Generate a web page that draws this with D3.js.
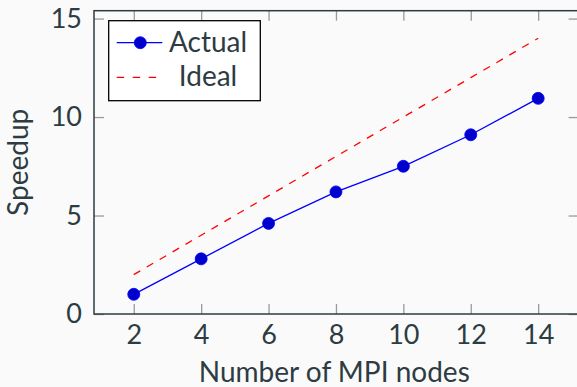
<!DOCTYPE html>
<html>
<head>
<meta charset="utf-8">
<script src="https://cdn.jsdelivr.net/npm/d3@7"></script>
<style>
  html, body { margin: 0; padding: 0; background: #fafafa; }
  svg { display: block; }
  text { font-family: Lato, "Open Sans", sans-serif; fill: #2d3c42; }
</style>
</head>
<body>
<div id="chart"></div>
<script>
const nodes = [2, 4, 6, 8, 10, 12, 14];
const actual = [1.0, 2.8, 4.6, 6.2, 7.5, 9.1, 10.95];
const ideal = [2, 4, 6, 8, 10, 12, 14];
const xTicks = [2, 4, 6, 8, 10, 12, 14];
const yTicks = [0, 5, 10, 15];

const W = 577, H = 387;
const ink = '#2d3c42';
const tickGray = '#9a9a9a';

const svg = d3.select('#chart').append('svg')
  .attr('width', W).attr('height', H);

svg.append('rect').attr('width', W).attr('height', H).attr('fill', '#fafafa');

const x = d3.scaleLinear().domain([0.82, 15.2]).range([94, 578.6]);
const y = d3.scaleLinear().domain([0, 15.4]).range([314, 10.7]);

const [x0, x1] = x.range();
const [y0, y1] = y.range();

// ticks (inward on all four sides)
const styleAxis = g => {
  g.select('.domain').remove();
  g.selectAll('.tick line').attr('stroke', tickGray).attr('stroke-width', 1.3);
  g.selectAll('.tick text').style('font-size', '27px').attr('fill', ink);
};

svg.append('g')
  .attr('transform', `translate(0,${y0})`)
  .call(d3.axisBottom(x).tickValues(xTicks).tickSize(-10).tickPadding(11))
  .call(styleAxis);

svg.append('g')
  .attr('transform', `translate(0,${y1})`)
  .call(d3.axisTop(x).tickValues(xTicks).tickSize(-10).tickFormat(''))
  .call(styleAxis);

svg.append('g')
  .attr('transform', `translate(${x0},0)`)
  .call(d3.axisLeft(y).tickValues(yTicks).tickSize(-10).tickPadding(12))
  .call(styleAxis);

svg.append('g')
  .attr('transform', `translate(${x1},0)`)
  .call(d3.axisRight(y).tickValues(yTicks).tickSize(-10).tickFormat(''))
  .call(styleAxis);

// frame
svg.append('rect')
  .attr('x', x0).attr('y', y1)
  .attr('width', x1 - x0).attr('height', y0 - y1)
  .attr('fill', 'none').attr('stroke', ink).attr('stroke-width', 1.5);

// ideal line
svg.append('path')
  .datum(nodes.map((n, i) => [n, ideal[i]]))
  .attr('fill', 'none')
  .attr('stroke', '#ff0000')
  .attr('stroke-width', 1.3)
  .attr('stroke-dasharray', '7.5,7.5')
  .attr('d', d3.line().x(d => x(d[0])).y(d => y(d[1])));

// actual line + markers
svg.append('path')
  .datum(nodes.map((n, i) => [n, actual[i]]))
  .attr('fill', 'none')
  .attr('stroke', '#0000ff')
  .attr('stroke-width', 1.3)
  .attr('d', d3.line().x(d => x(d[0])).y(d => y(d[1])));

svg.selectAll('circle.actual')
  .data(nodes.map((n, i) => [n, actual[i]]))
  .enter().append('circle')
  .attr('class', 'actual')
  .attr('cx', d => x(d[0]))
  .attr('cy', d => y(d[1]))
  .attr('r', 6)
  .attr('fill', '#0000cc')
  .attr('stroke', '#0000ff')
  .attr('stroke-width', 0.8);

// axis labels
svg.append('text')
  .attr('x', (x0 + 578.6) / 2 - 2)
  .attr('y', 382)
  .attr('text-anchor', 'middle')
  .style('font-size', '28px')
  .text('Number of MPI nodes');

svg.append('text')
  .attr('transform', `translate(28,${(y0 + y1) / 2}) rotate(-90)`)
  .attr('text-anchor', 'middle')
  .style('font-size', '28px')
  .text('Speedup');

// legend
const lg = svg.append('g');
lg.append('rect')
  .attr('x', 108.7).attr('y', 20.7)
  .attr('width', 151.6).attr('height', 80)
  .attr('fill', '#ffffff').attr('stroke', '#000').attr('stroke-width', 1.3);

lg.append('line')
  .attr('x1', 116.7).attr('x2', 162.3).attr('y1', 42.7).attr('y2', 42.7)
  .attr('stroke', '#0000ff').attr('stroke-width', 1.3);
lg.append('circle')
  .attr('cx', 140.3).attr('cy', 42.7).attr('r', 6)
  .attr('fill', '#0000cc').attr('stroke', '#0000ff').attr('stroke-width', 0.8);
lg.append('text')
  .attr('x', 208).attr('y', 51.5)
  .attr('text-anchor', 'middle')
  .style('font-size', '28px')
  .text('Actual');

lg.append('line')
  .attr('x1', 116.7).attr('x2', 162.3).attr('y1', 77.3).attr('y2', 77.3)
  .attr('stroke', '#ff0000').attr('stroke-width', 1.3)
  .attr('stroke-dasharray', '7.5,8.5');
lg.append('text')
  .attr('x', 208).attr('y', 86)
  .attr('text-anchor', 'middle')
  .style('font-size', '28px')
  .text('Ideal');
</script>
</body>
</html>
